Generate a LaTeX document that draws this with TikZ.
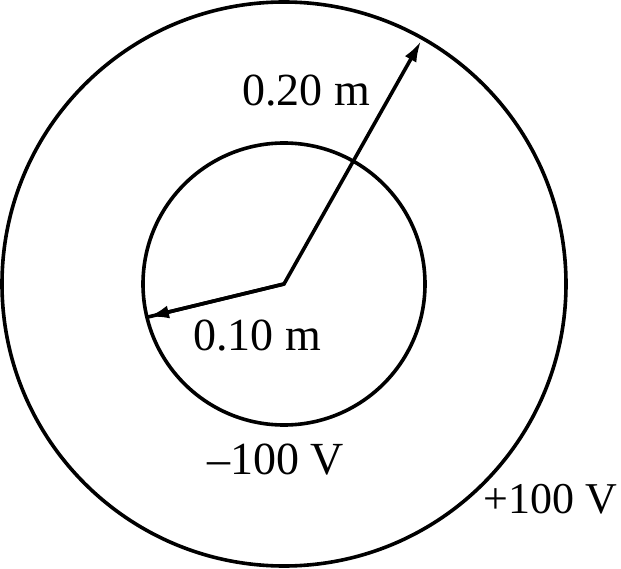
\documentclass[tikz,border=0pt]{standalone}
\usepackage{fontspec}
\setmainfont{Liberation Serif}
\usetikzlibrary{arrows.meta}
\begin{document}
\begin{tikzpicture}[x=1pt,y=-1pt,
  ring/.style={line width=3.6pt},
  radius arrow/.style={line width=3.6pt,-{Latex[length=21pt,width=13pt]}},
  lbl/.style={anchor=base west,inner sep=0pt,font=\fontsize{46}{52}\selectfont}]
\useasboundingbox (0,0) rectangle (621,569);
\coordinate (c) at (284,284);
\draw[ring] (c) circle[radius=282];
\draw[ring] (c) circle[radius=141];
\coordinate (outer) at (421,41);
\coordinate (inner) at (148,317);
\draw[radius arrow,line join=miter] (inner) -- (c) -- (outer);
\draw[radius arrow] (c) -- (inner);
\node[lbl] (l20) at (242,106) {0.20 m};
\node[lbl] (l10) at (193,350) {0.10 m};
\node[lbl] (lm) at (207,474) {–100 V};
\node[lbl,anchor=base east,font=\fontsize{44}{50}\selectfont] (lp) at (617,513) {+100 V};
\end{tikzpicture}
\end{document}
